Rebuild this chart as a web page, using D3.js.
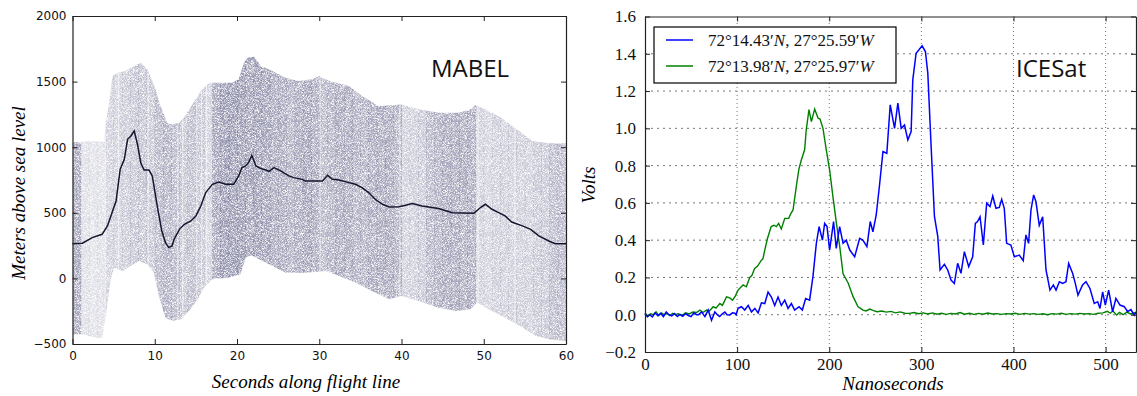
<!DOCTYPE html>
<html>
<head>
<meta charset="utf-8">
<script src="https://cdn.jsdelivr.net/npm/d3@7"></script>
<style>
body { margin: 0; background: #fff; }
</style>
</head>
<body>
<svg id="chart" width="1137" height="396"></svg>
<script>
// ---------- MABEL panel data (seconds, metres) ----------
var surfaceLine = [[0,265],[1.2,268],[2.4,311],[3.6,336],[4.25,400],[4.8,501],[5.3,590],[5.8,832],[6.3,908],[6.7,1060],
    [7.1,1086],[7.5,1124],[7.9,1022],[8.3,882],[8.7,826],[9.3,826],[9.7,781],[10.3,552],[10.85,362],[11.3,273],
    [11.7,235],[12.1,247],[12.35,298],[13,374],[13.6,412],[14.4,438],[15,476],[15.6,552],[16.2,654],[17,717],
    [17.8,735],[18.6,717],[19.6,717],[20.2,781],[20.6,844],[21.05,857],[21.4,882],[21.8,938],[22.3,857],[22.9,837],
    [23.5,826],[23.9,816],[24.5,844],[25.3,819],[26.3,781],[26.9,768],[27.9,755],[28.3,743],[30.4,743],[31,786],
    [31.6,755],[32.4,750],[33.6,730],[34.4,717],[35.2,692],[36,654],[36.8,603],[37.7,565],[38.5,545],[39.7,547],
    [40.5,557],[41.3,570],[42.5,552],[44.5,532],[46.2,501],[48.8,496],[49.6,540],[50.2,565],[51,527],[51.8,501],
    [52.6,476],[53.4,430],[54.7,400],[55.7,374],[56.7,324],[57.9,285],[58.7,265],[60,265]];

var cloudTop = [[0,1035],[2.4,1048],[3.85,1040],[4.05,1187],[4.45,1340],[4.86,1543],[5.5,1568],[6.5,1581],[7.5,1619],
    [8.3,1644],[9.1,1594],[9.9,1479],[10.7,1314],[11.5,1187],[12.1,1175],[13,1187],[13.8,1251],[14.6,1327],
    [15.6,1428],[16.6,1492],[17.8,1492],[19.4,1492],[20.2,1517],[20.85,1644],[21.3,1683],[22.1,1690],[22.9,1619],
    [24.3,1581],[25.9,1530],[27.5,1505],[29.1,1517],[29.96,1543],[31.2,1505],[33.6,1467],[35.2,1390],[37.2,1314],
    [39.1,1319],[39.9,1327],[42.1,1289],[44.5,1263],[47,1263],[48.4,1289],[49,1319],[49.8,1301],[51.8,1238],
    [54.3,1124],[55.9,1048],[57.9,1030],[60,1030]];

var cloudBottom = [[0,-426],[1.2,-426],[2.8,-451],[3.6,-459],[4.05,-286],[4.65,-7],[5.06,82],[6.07,57],[7.1,95],
    [8.1,133],[9.1,108],[9.9,44],[10.5,-134],[11.3,-299],[12.1,-324],[13.2,-311],[14.2,-248],[15.2,-159],[16,-70],
    [17,-7],[19,6],[20.4,32],[21.05,158],[21.7,176],[22.7,146],[24.3,95],[25.9,44],[28.3,44],[30.8,57],[32.4,19],
    [34.4,-32],[36.4,-96],[38.5,-159],[39.9,-134],[42.1,-172],[44.5,-223],[46.6,-248],[48.4,-235],[49.2,-184],
    [50.6,-235],[52.6,-299],[54.7,-375],[56.3,-438],[57.9,-464],[60,-477]];

// photon density in one-second columns (0..59 s)
var photonDensity = [0.75,0.28,0.25,0.28,0.4,0.4,0.45,0.5,0.52,0.5,
    0.6,0.65,0.6,0.52,0.55,0.52,0.4,0.78,0.85,0.85,
    0.82,0.8,0.82,0.8,0.72,0.72,0.66,0.72,0.8,0.72,
    0.6,0.66,0.72,0.72,0.66,0.66,0.72,0.72,0.72,0.66,
    0.4,0.42,0.46,0.6,0.66,0.72,0.72,0.72,0.72,0.4,
    0.37,0.4,0.42,0.4,0.42,0.4,0.46,0.46,0.58,0.58];
// thin bright columns in the photon cloud
var lightColumns = [4.0, 5.6, 9.2, 12.8, 13.4, 15.1, 15.7, 16.3, 30.1, 39.8, 49.3, 53.8];

var mabelXTicks = [0, 10, 20, 30, 40, 50, 60];
var mabelYTicks = [-500, 0, 500, 1000, 1500, 2000];

// ---------- ICESat panel data (nanoseconds, volts) ----------
var blueSeries = [[0,0.005],[2.5,-0.01],[5,0],[8,-0.012],[11,0.01],[14,-0.005],[17,0.008],[20,-0.01],[23,0.015],[26,0],
    [29,-0.006],[32,0.006],[35,-0.01],[38,0.002],[41,-0.008],[44,0.006],[47,-0.004],[50,-0.01],[53,0.01],[56,0],
    [58,0],[61.4,0.015],[65,-0.01],[68.6,0.025],[72.2,-0.03],[75.8,0.015],[78.5,0],[81,-0.01],[84,0.005],[86.7,0.015],
    [89,0],[92,-0.001],[95,0.01],[97.5,0.008],[99,0],[101,0.034],[104.7,0.043],[108.3,0.025],[112,0.05],[115.6,0.015],
    [119.2,0.034],[122.8,0.01],[126.4,0.064],[130,0.06],[133.6,0.122],[137.2,0.095],[140.8,0.05],[144.4,0.095],
    [148,0.05],[151.7,0.078],[155.3,0.034],[158.9,0.06],[162.5,0.025],[167.2,0.043],[170.8,0.025],[174.4,0.087],
    [178.7,0.078],[182.3,0.204],[186,0.383],[189,0.473],[192.6,0.4],[195,0.49],[197.6,0.473],[200.4,0.347],
    [204.7,0.5],[207.6,0.356],[211.3,0.473],[215,0.383],[218.5,0.4],[222.3,0.347],[227.6,0.311],[233,0.41],
    [236.5,0.4],[240.9,0.365],[244.5,0.5],[247.4,0.445],[251,0.535],[254.6,0.696],[258.3,0.875],[262.5,0.866],
    [266.2,1.126],[270.9,1.0],[274.5,1.135],[278.1,1.0],[281.7,1.018],[285.3,0.938],[288.9,0.983],[290.7,1.26],
    [294.3,1.403],[297.2,1.42],[300.8,1.443],[304.4,1.412],[307,1.296],[310.6,0.903],[314.2,0.527],[317.8,0.42],
    [320.3,0.24],[325,0.27],[328.6,0.24],[332.2,0.186],[335.8,0.168],[339.4,0.276],[343,0.222],[346.7,0.338],
    [351.4,0.258],[355.7,0.311],[358.6,0.49],[361,0.5],[363.7,0.526],[367.3,0.374],[370.9,0.598],[374.5,0.58],
    [377.5,0.637],[381,0.571],[384.6,0.576],[387.2,0.619],[390,0.571],[392.6,0.383],[397.2,0.374],[400.9,0.311],
    [406.3,0.32],[410.6,0.29],[413.5,0.428],[416.4,0.383],[419,0.562],[421.9,0.643],[424.4,0.606],[428,0.48],
    [431.7,0.526],[435.3,0.24],[439.6,0.132],[443.3,0.16],[446.2,0.132],[449.8,0.177],[453.4,0.168],[457,0.177],
    [459.9,0.275],[464.2,0.222],[467.1,0.168],[470,0.105],[475,0.16],[478.7,0.177],[483,0.141],[487.7,0.061],
    [491.4,0.07],[493.9,0.034],[496.8,0.123],[499.7,0.052],[503.3,0.132],[507.6,0.016],[511.2,0.088],[515.6,0.052],
    [520.3,0.043],[523.9,0.016],[527.5,0.028],[531.1,-0.002],[533,0.016]];

var greenSeries = [[0,0.01],[3,-0.01],[6,0.005],[9,0],[12,0.015],[15,-0.005],[18,0.01],[21,0],[24,0.006],[27,-0.005],
    [30,0.008],[33,0],[36,0.005],[40,-0.005],[44,0.01],[48,0.004],[52,0.015],[56,0.012],[59.6,0.025],[63,0.012],
    [66.8,0.025],[70,0.02],[74,0.043],[77,0.035],[81.3,0.06],[84,0.05],[88.5,0.096],[92,0.09],[95,0.078],[98,0.1],
    [101,0.132],[106.5,0.16],[110,0.15],[113.7,0.2],[116,0.21],[119,0.248],[122,0.26],[126.4,0.293],[128,0.3],
    [130,0.347],[133,0.41],[137,0.473],[140,0.48],[142.6,0.473],[145,0.49],[148,0.46],[151.7,0.517],[156,0.517],
    [158,0.54],[160.7,0.562],[164.3,0.69],[167,0.78],[169.7,0.83],[173.3,0.885],[175,0.99],[178,1.1],[180.6,1.036],
    [184.2,1.103],[187.8,1.055],[190,1.05],[193.2,1.0],[196.8,0.885],[200.4,0.777],[204,0.634],[207.8,0.49],
    [211.4,0.365],[215,0.22],[220.5,0.17],[225.9,0.097],[231.3,0.043],[236.7,0.025],[240,0.02],[244,0.03],
    [248,0.022],[252,0.016],[257,0.02],[262,0.014],[267,0.018],[272,0.01],[277,0.015],[282,0.008],[287,0.007],
    [292,0.012],[297,0.005],[302,0.01],[307,0.004],[312,0.01],[317,0.003],[322,0.008],[327,0.002],[332,0.007],
    [337,0.004],[342,0.012],[347,0.003],[352,0.008],[357,0.002],[362,0.007],[367,0.003],[372,0.009],[377,0.004],
    [382,0.006],[387,0.002],[392,0.006],[397,0.004],[402,0.008],[407,0.002],[412,0.007],[417,0.003],[422,0.006],
    [427,0.002],[432,0.005],[437,0],[442,0.006],[447,0.003],[452,0.008],[457,0.002],[462,0.006],[467,0.003],
    [472,0.007],[477,0.004],[482,0.006],[487,0.002],[492,0.008],[497,0.01],[502,0.018],[505,0.008],[508,0.02],
    [512,-0.002],[515,0.012],[519,0],[523,0.014],[527,0.004],[531,0.01],[533,0.006]];

var icesatXTicks = [0, 100, 200, 300, 400, 500];
var icesatYTicks = [-0.2, 0, 0.2, 0.4, 0.6, 0.8, 1.0, 1.2, 1.4, 1.6];
var legendLabels = [
    {color: '#0000ff', parts: ['72°14.43′', 'N', ', 27°25.59′', 'W']},
    {color: '#008000', parts: ['72°13.98′', 'N', ', 27°25.97′', 'W']}
];

var svg = d3.select('#chart');
var defs = svg.append('defs');

// ================= left panel: MABEL =================
var xL = d3.scaleLinear().domain([0, 60]).range([72.5, 566]);
var yL = d3.scaleLinear().domain([-500, 2000]).range([344, 16]);

// outline of the photon cloud: top edge then bottom edge backwards
var cloudOutline = cloudTop.concat(cloudBottom.slice().reverse());
var pointLine = d3.line()
    .x(function(d) { return xL(d[0]); })
    .y(function(d) { return yL(d[1]); });

defs.append('clipPath').attr('id', 'cloudClip')
    .append('path')
    .attr('d', pointLine(cloudOutline) + 'Z');

// speckle texture for the photons
var grain = defs.append('filter').attr('id', 'grainF')
    .attr('filterUnits', 'userSpaceOnUse')
    .attr('x', 60).attr('y', 10).attr('width', 520).attr('height', 345)
    .attr('color-interpolation-filters', 'sRGB');
grain.append('feTurbulence')
    .attr('type', 'fractalNoise')
    .attr('baseFrequency', 1.6)
    .attr('numOctaves', 2)
    .attr('seed', 7);
grain.append('feColorMatrix')
    .attr('type', 'matrix')
    .attr('values', '0 0 0 0 1  0 0 0 0 1  0 0 0 0 1  2.6 0 0 0 -0.6');

defs.append('mask').attr('id', 'grainMask')
    .attr('maskUnits', 'userSpaceOnUse')
    .attr('x', 60).attr('y', 10).attr('width', 520).attr('height', 345)
    .append('rect')
    .attr('x', 60).attr('y', 10).attr('width', 520).attr('height', 345)
    .attr('fill', '#fff')
    .attr('filter', 'url(#grainF)');

var cloudG = svg.append('g')
    .attr('clip-path', 'url(#cloudClip)');

cloudG.append('g')
    .attr('mask', 'url(#grainMask)')
    .selectAll('rect')
    .data(photonDensity)
    .enter()
    .append('rect')
    .attr('x', function(d, i) { return xL(i); })
    .attr('width', function(d, i) { return xL(i + 1) - xL(i) + 0.4; })
    .attr('y', yL(2000))
    .attr('height', yL(-500) - yL(2000))
    .attr('fill', '#363668')
    .attr('fill-opacity', function(d) { return d * 0.62; });

cloudG.selectAll('.gap')
    .data(lightColumns)
    .enter()
    .append('rect')
    .attr('class', 'gap')
    .attr('x', function(d) { return xL(d) - 0.6; })
    .attr('width', 1.2)
    .attr('y', yL(2000))
    .attr('height', yL(-500) - yL(2000))
    .attr('fill', '#fff')
    .attr('fill-opacity', 0.5);

// ground surface
svg.append('path')
    .attr('d', pointLine(surfaceLine))
    .attr('fill', 'none')
    .attr('stroke', '#15152e')
    .attr('stroke-width', 1.5);

// axes, ticks pointing inside like the classic matplotlib style
function styleAxis(g, fontFamily, fontSize) {
    g.selectAll('.domain').attr('stroke', '#222').attr('stroke-width', 1.2);
    g.selectAll('.tick line').attr('stroke', '#222');
    g.selectAll('.tick text')
        .attr('font-family', fontFamily)
        .attr('font-size', fontSize)
        .attr('fill', '#111');
}

var sansTicks = '"DejaVu Sans", sans-serif';
var fmtInt = d3.format('d');

svg.append('g')
    .attr('transform', 'translate(0,' + yL(-500) + ')')
    .call(d3.axisBottom(xL).tickValues(mabelXTicks).tickSize(-5).tickSizeOuter(0).tickPadding(7).tickFormat(fmtInt))
    .call(styleAxis, sansTicks, 12);
svg.append('g')
    .attr('transform', 'translate(0,' + yL(2000) + ')')
    .call(d3.axisTop(xL).tickValues(mabelXTicks).tickSize(-5).tickSizeOuter(0).tickFormat(''))
    .call(styleAxis, sansTicks, 12);
svg.append('g')
    .attr('transform', 'translate(' + xL(0) + ',0)')
    .call(d3.axisLeft(yL).tickValues(mabelYTicks).tickSize(-5).tickSizeOuter(0).tickPadding(6).tickFormat(fmtInt))
    .call(styleAxis, sansTicks, 12);
svg.append('g')
    .attr('transform', 'translate(' + xL(60) + ',0)')
    .call(d3.axisRight(yL).tickValues(mabelYTicks).tickSize(-5).tickSizeOuter(0).tickFormat(''))
    .call(styleAxis, sansTicks, 12);

svg.append('text')
    .attr('x', 306).attr('y', 388)
    .attr('text-anchor', 'middle')
    .attr('font-family', '"Liberation Serif", serif')
    .attr('font-style', 'italic')
    .attr('font-size', 19)
    .text('Seconds along flight line');

svg.append('text')
    .attr('transform', 'translate(25,193) rotate(-90)')
    .attr('text-anchor', 'middle')
    .attr('font-family', '"Liberation Serif", serif')
    .attr('font-style', 'italic')
    .attr('font-size', 19)
    .text('Meters above sea level');

svg.append('text')
    .attr('x', 431).attr('y', 77)
    .attr('font-family', '"Open Sans", sans-serif')
    .attr('font-size', 24)
    .attr('fill', '#111')
    .text('MABEL');

// ================= right panel: ICESat =================
var xR = d3.scaleLinear().domain([0, 533]).range([645, 1136]);
var yR = d3.scaleLinear().domain([-0.2, 1.6]).range([352, 16.5]);

var gridG = svg.append('g');
gridG.selectAll('.hgrid')
    .data(icesatYTicks.slice(1, -1))
    .enter()
    .append('line')
    .attr('class', 'hgrid')
    .attr('x1', xR(0)).attr('x2', xR(533))
    .attr('y1', function(d) { return yR(d); })
    .attr('y2', function(d) { return yR(d); })
    .attr('stroke', '#777')
    .attr('stroke-dasharray', '2,4');
gridG.selectAll('.vgrid')
    .data(icesatXTicks.slice(1))
    .enter()
    .append('line')
    .attr('class', 'vgrid')
    .attr('y1', yR(-0.2)).attr('y2', yR(1.6))
    .attr('x1', function(d) { return xR(d); })
    .attr('x2', function(d) { return xR(d); })
    .attr('stroke', '#777')
    .attr('stroke-dasharray', '1,3');

var voltLine = d3.line()
    .x(function(d) { return xR(d[0]); })
    .y(function(d) { return yR(d[1]); });

svg.append('path')
    .attr('d', voltLine(greenSeries))
    .attr('fill', 'none')
    .attr('stroke', '#008000')
    .attr('stroke-width', 1.4);
svg.append('path')
    .attr('d', voltLine(blueSeries))
    .attr('fill', 'none')
    .attr('stroke', '#0000ff')
    .attr('stroke-width', 1.5);

var serifTicks = '"Liberation Serif", serif';
var fmtVolt = d3.format('.1f');

svg.append('g')
    .attr('transform', 'translate(0,' + yR(-0.2) + ')')
    .call(d3.axisBottom(xR).tickValues(icesatXTicks).tickSize(-5).tickSizeOuter(0).tickPadding(6).tickFormat(fmtInt))
    .call(styleAxis, serifTicks, 17);
svg.append('g')
    .attr('transform', 'translate(0,' + yR(1.6) + ')')
    .call(d3.axisTop(xR).tickValues(icesatXTicks).tickSize(-5).tickSizeOuter(0).tickFormat(''))
    .call(styleAxis, serifTicks, 17);
svg.append('g')
    .attr('transform', 'translate(' + xR(0) + ',0)')
    .call(d3.axisLeft(yR).tickValues(icesatYTicks).tickSize(-5).tickSizeOuter(0).tickPadding(9).tickFormat(fmtVolt))
    .call(styleAxis, serifTicks, 17);
svg.append('g')
    .attr('transform', 'translate(' + xR(533) + ',0)')
    .call(d3.axisRight(yR).tickValues(icesatYTicks).tickSize(-5).tickSizeOuter(0).tickFormat(''))
    .call(styleAxis, serifTicks, 17);
svg.selectAll('.tick line').attr('stroke-width', 1);

svg.append('text')
    .attr('x', 893).attr('y', 390)
    .attr('text-anchor', 'middle')
    .attr('font-family', '"Liberation Serif", serif')
    .attr('font-style', 'italic')
    .attr('font-size', 19)
    .text('Nanoseconds');

svg.append('text')
    .attr('transform', 'translate(595,185) rotate(-90)')
    .attr('text-anchor', 'middle')
    .attr('font-family', '"Liberation Serif", serif')
    .attr('font-style', 'italic')
    .attr('font-size', 19)
    .text('Volts');

svg.append('text')
    .attr('x', 1016).attr('y', 77)
    .attr('font-family', '"Open Sans", sans-serif')
    .attr('font-size', 24)
    .attr('fill', '#111')
    .text('ICESat');

// legend
var legendG = svg.append('g');
legendG.append('rect')
    .attr('x', 654).attr('y', 27)
    .attr('width', 242).attr('height', 56)
    .attr('fill', '#fff')
    .attr('stroke', '#000')
    .attr('stroke-width', 1.2);

var items = legendG.selectAll('.item')
    .data(legendLabels)
    .enter()
    .append('g')
    .attr('class', 'item')
    .attr('transform', function(d, i) { return 'translate(0,' + (40 + i * 26) + ')'; });

items.append('line')
    .attr('x1', 666).attr('x2', 693)
    .attr('stroke', function(d) { return d.color; })
    .attr('stroke-width', 1.5);

var itemText = items.append('text')
    .attr('x', 708).attr('y', 6)
    .attr('font-family', '"Liberation Serif", serif')
    .attr('font-size', 17)
    .attr('fill', '#111');
itemText.selectAll('tspan')
    .data(function(d) { return d.parts; })
    .enter()
    .append('tspan')
    .attr('font-style', function(d, i) { return i % 2 === 1 ? 'italic' : 'normal'; })
    .text(function(d) { return d; });
</script>
</body>
</html>
